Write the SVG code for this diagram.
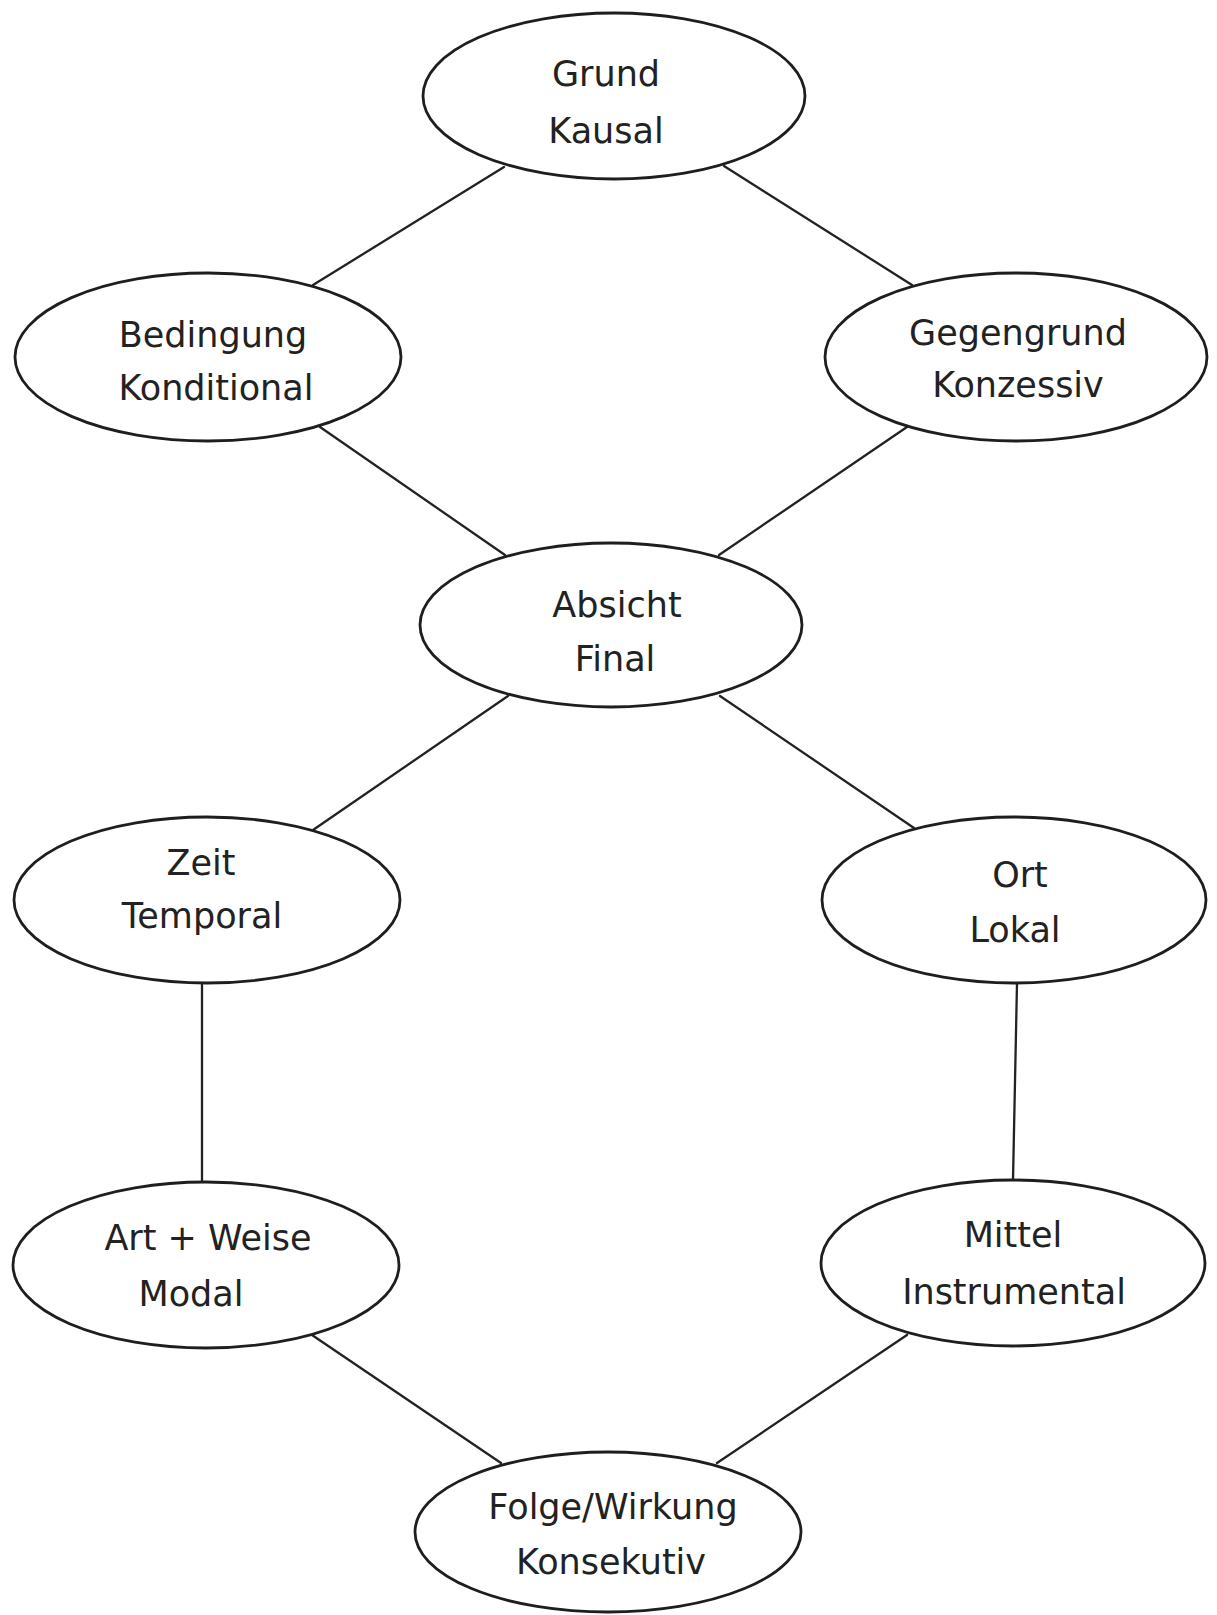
<svg xmlns="http://www.w3.org/2000/svg" width="1217" height="1615" viewBox="0 0 1217 1615">
  <style>
    .edge { stroke: #222222; stroke-width: 2.3; fill: none; stroke-linecap: round; }
    .node ellipse { fill: #ffffff; stroke: #1e1e1e; stroke-width: 2.8; }
    .node text { font-family: "DejaVu Sans", "Liberation Sans", sans-serif; font-size: 35px; fill: #222222; text-anchor: middle; }
  </style>
  <rect x="0" y="0" width="1217" height="1615" fill="#ffffff"/>

  <!-- connectors -->
  <g id="connectors">
    <line class="edge" x1="504" y1="167" x2="313" y2="285"/>
    <line class="edge" x1="724" y1="166" x2="912" y2="285"/>
    <line class="edge" x1="320" y1="427" x2="505" y2="555"/>
    <line class="edge" x1="907" y1="427" x2="719" y2="555"/>
    <line class="edge" x1="508" y1="696" x2="313" y2="830"/>
    <line class="edge" x1="720" y1="696" x2="914" y2="828"/>
    <line class="edge" x1="202" y1="983" x2="202" y2="1182"/>
    <line class="edge" x1="1017" y1="983" x2="1013" y2="1180"/>
    <line class="edge" x1="312" y1="1335" x2="501" y2="1463"/>
    <line class="edge" x1="907" y1="1335" x2="717" y2="1463"/>
  </g>

  <g id="node-grund" class="node">
    <ellipse cx="614" cy="96" rx="191" ry="83"/>
    <text x="606" y="86">Grund</text>
    <text x="606" y="143">Kausal</text>
  </g>

  <g id="node-bedingung" class="node">
    <ellipse cx="208" cy="357" rx="193" ry="84"/>
    <text x="213" y="347">Bedingung</text>
    <text x="216" y="400">Konditional</text>
  </g>

  <g id="node-gegengrund" class="node">
    <ellipse cx="1016" cy="357" rx="191" ry="84"/>
    <text x="1018" y="345">Gegengrund</text>
    <text x="1018" y="397">Konzessiv</text>
  </g>

  <g id="node-absicht" class="node">
    <ellipse cx="611" cy="625" rx="191" ry="82"/>
    <text x="617" y="617">Absicht</text>
    <text x="615" y="671">Final</text>
  </g>

  <g id="node-zeit" class="node">
    <ellipse cx="207" cy="900" rx="193" ry="83"/>
    <text x="201" y="875">Zeit</text>
    <text x="202" y="928">Temporal</text>
  </g>

  <g id="node-ort" class="node">
    <ellipse cx="1014" cy="900" rx="192" ry="83"/>
    <text x="1020" y="887">Ort</text>
    <text x="1015" y="942">Lokal</text>
  </g>

  <g id="node-art-weise" class="node">
    <ellipse cx="206" cy="1265" rx="193" ry="83"/>
    <text x="208" y="1250">Art + Weise</text>
    <text x="191" y="1306">Modal</text>
  </g>

  <g id="node-mittel" class="node">
    <ellipse cx="1013" cy="1263" rx="192" ry="83"/>
    <text x="1013" y="1247">Mittel</text>
    <text x="1014" y="1304">Instrumental</text>
  </g>

  <g id="node-folge" class="node">
    <ellipse cx="608" cy="1532" rx="193" ry="80"/>
    <text x="613" y="1519">Folge/Wirkung</text>
    <text x="611" y="1574">Konsekutiv</text>
  </g>
</svg>
